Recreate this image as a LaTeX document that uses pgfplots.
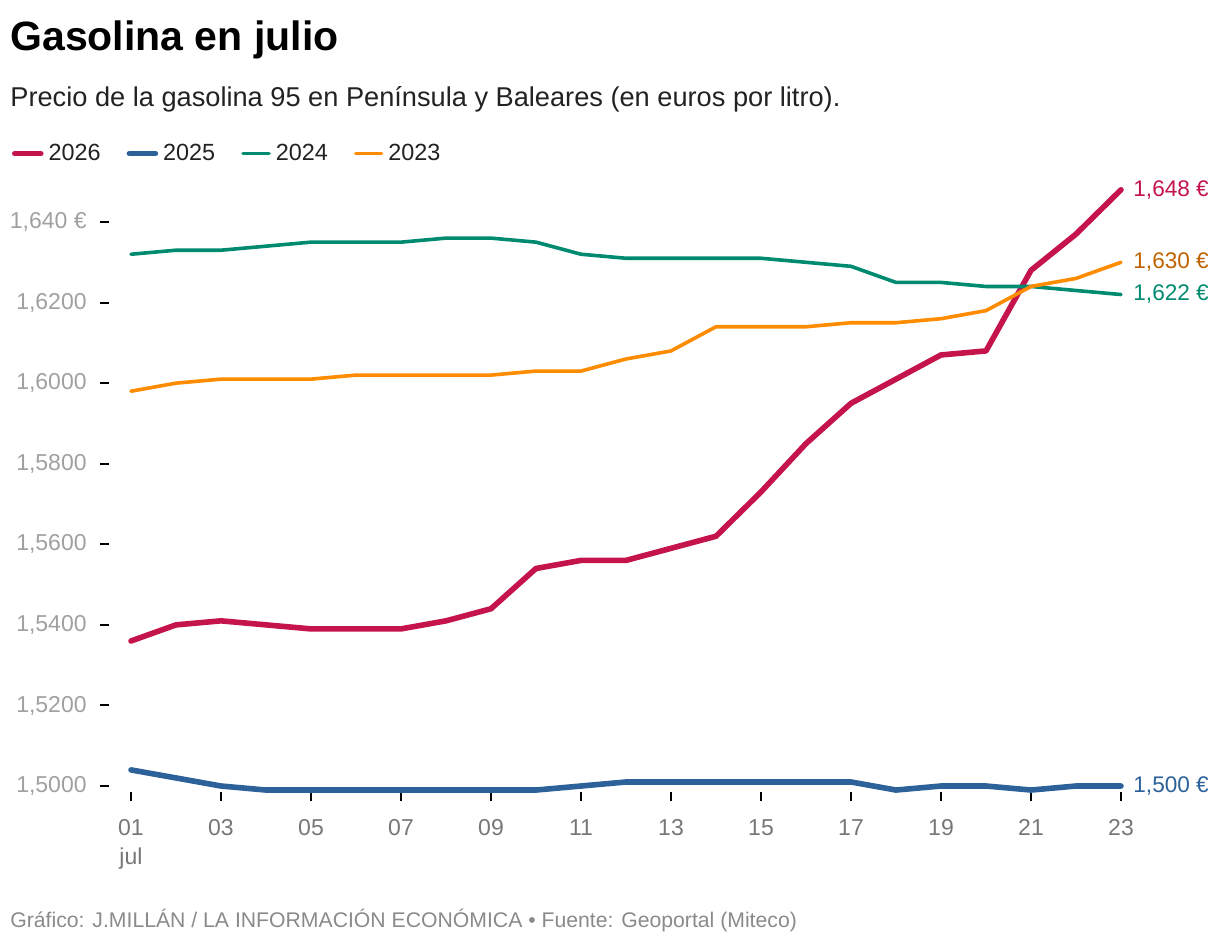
\documentclass[border=0pt]{standalone}
\usepackage{pgfplots}
\pgfplotsset{compat=1.18}
\usepackage{fontspec}
\setmainfont{Liberation Sans}
\definecolor{c26}{HTML}{C4144B}
\definecolor{c25}{HTML}{2C6199}
\definecolor{c24}{HTML}{008B70}
\definecolor{c23}{HTML}{FF8C00}
\definecolor{l23}{HTML}{C06200}
\definecolor{ticky}{HTML}{A0A0A0}
\definecolor{tickx}{HTML}{777777}
\definecolor{foot}{HTML}{8A8A8A}
\definecolor{txt}{HTML}{222222}

\pgfplotstableread{
day y2026 y2025 y2024 y2023
1  1.536 1.504 1.632 1.598
2  1.540 1.502 1.633 1.600
3  1.541 1.500 1.633 1.601
4  1.540 1.499 1.634 1.601
5  1.539 1.499 1.635 1.601
6  1.539 1.499 1.635 1.602
7  1.539 1.499 1.635 1.602
8  1.541 1.499 1.636 1.602
9  1.544 1.499 1.636 1.602
10 1.554 1.499 1.635 1.603
11 1.556 1.500 1.632 1.603
12 1.556 1.501 1.631 1.606
13 1.559 1.501 1.631 1.608
14 1.562 1.501 1.631 1.614
15 1.573 1.501 1.631 1.614
16 1.585 1.501 1.630 1.614
17 1.595 1.501 1.629 1.615
18 1.601 1.499 1.625 1.615
19 1.607 1.500 1.625 1.616
20 1.608 1.500 1.624 1.618
21 1.628 1.499 1.624 1.624
22 1.637 1.500 1.623 1.626
23 1.648 1.500 1.622 1.630
}\datatable

\begin{document}
\begin{tikzpicture}
\path[use as bounding box] (0,0) rectangle (610bp,-474bp);
\node[anchor=base west, inner sep=0pt, font=\fontsize{20.5bp}{23bp}\selectfont\bfseries] at (5bp,-25bp) {Gasolina en julio};
\node[anchor=base west, inner sep=0pt, font=\fontsize{13.6bp}{15bp}\selectfont, text=txt] at (5bp,-53bp) {Precio de la gasolina 95 en Península y Baleares (en euros por litro).};
\node[anchor=base west, inner sep=0pt, font=\fontsize{10.6bp}{12bp}\selectfont, text=foot] at (5bp,-463.5bp) {Gráfico: J.MILLÁN / LA INFORMACIÓN ECONÓMICA • Fuente: Geoportal (Miteco)};
\begin{axis}[
  at={(50bp,-396bp)}, anchor=south west,
  scale only axis, width=510.5bp, height=305.14bp,
  xmin=0.3111, xmax=23, ymin=1.498511, ymax=1.65,
  axis x line*=bottom, axis y line*=left,
  axis line style={draw=none},
  clip=false,
  /pgf/number format/assume math mode=true,
  tick style={black, line width=1bp},
  major tick length=4.5bp,
  xtick align=outside, ytick align=inside,
  xtick={1,3,5,7,9,11,13,15,17,19,21,23},
  xticklabels={{01\\jul},03,05,07,09,11,13,15,17,19,21,23},
  ytick={1.50,1.52,1.54,1.56,1.58,1.60,1.62,1.64},
  yticklabels={{1,5000},{1,5200},{1,5400},{1,5600},{1,5800},{1,6000},{1,6200},{1,640 €}},
  xticklabel style={text=tickx, font=\fontsize{11.5bp}{14.5bp}\selectfont, inner sep=0pt, anchor=north, align=center, yshift=-9bp},
  yticklabel style={text=ticky, font=\fontsize{11.5bp}{13bp}\selectfont, inner sep=0pt, anchor=east, xshift=-6.5bp},
  legend columns=4,
  legend style={at={(-0.0862,1.046)}, anchor=west, draw=none, fill=none, inner sep=0pt, outer sep=0pt,
    font=\fontsize{11.7bp}{13bp}\selectfont, text=txt,
    /tikz/every even column/.append style={column sep=11bp},
    /tikz/every odd column/.append style={column sep=0.5bp}},
  legend image code/.code={\draw[#1, line cap=round] (0bp,0bp) -- (13bp,0bp);},
]
\addplot[c26, line width=2.8bp, line cap=round, line join=round] table[x=day, y=y2026] {\datatable};
\addlegendentry{2026}
\addplot[c25, line width=2.8bp, line cap=round, line join=round] table[x=day, y=y2025] {\datatable};
\addlegendentry{2025}
\addplot[c24, line width=1.8bp, line cap=round, line join=round] table[x=day, y=y2024] {\datatable};
\addlegendentry{2024}
\addplot[c23, line width=1.8bp, line cap=round, line join=round] table[x=day, y=y2023] {\datatable};
\addlegendentry{2023}

\node[anchor=west, text=c26, inner sep=0pt, xshift=6bp, font=\fontsize{11.3bp}{13bp}\selectfont] at (axis cs:23,1.648) {1,648 €};
\node[anchor=west, text=l23, inner sep=0pt, xshift=6bp, font=\fontsize{11.3bp}{13bp}\selectfont] at (axis cs:23,1.630) {1,630 €};
\node[anchor=west, text=c24, inner sep=0pt, xshift=6bp, font=\fontsize{11.3bp}{13bp}\selectfont] at (axis cs:23,1.622) {1,622 €};
\node[anchor=west, text=c25, inner sep=0pt, xshift=6bp, font=\fontsize{11.3bp}{13bp}\selectfont] at (axis cs:23,1.500) {1,500 €};
\end{axis}
\end{tikzpicture}
\end{document}
